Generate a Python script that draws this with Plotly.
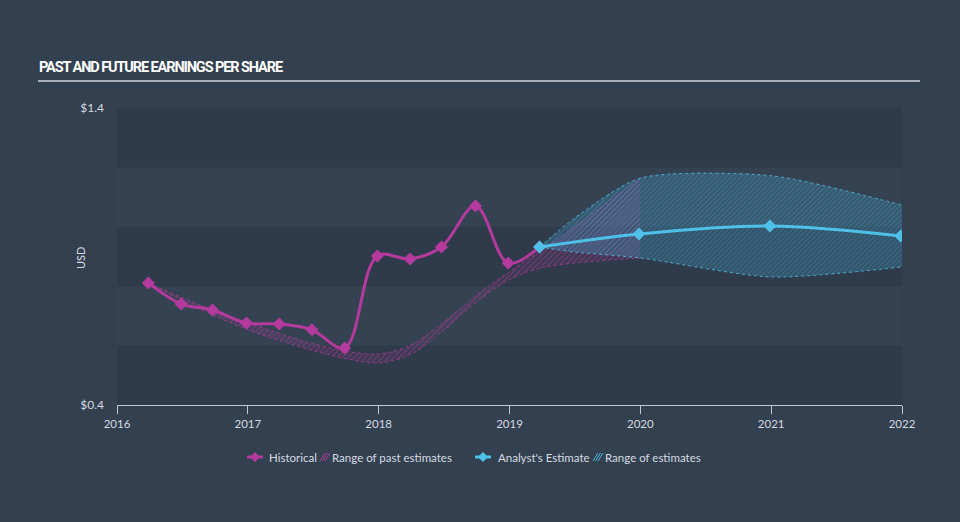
import plotly.graph_objects as go

# ---- data ----
hist_x = [2016.24, 2016.49, 2016.73, 2016.99, 2017.24, 2017.49, 2017.74, 2017.99,
          2018.24, 2018.48, 2018.74, 2018.99, 2019.23]
hist_y = [0.811, 0.740, 0.720, 0.676, 0.673, 0.653, 0.592, 0.902,
          0.892, 0.932, 1.070, 0.878, 0.932]

est_x = [2019.23, 2019.99, 2020.99, 2021.99]
est_y = [0.932, 0.976, 1.003, 0.969]

past_rng_x = [2016.24, 2016.5, 2016.75, 2017.0, 2017.25, 2017.5, 2017.75, 2018.0,
              2018.25, 2018.5, 2018.75, 2019.0, 2019.25, 2020.0]
past_rng_hi = [0.811, 0.761, 0.717, 0.677, 0.640, 0.606, 0.582, 0.572,
               0.603, 0.680, 0.771, 0.849, 0.923, 1.164]
past_rng_lo = [0.811, 0.751, 0.700, 0.653, 0.616, 0.583, 0.556, 0.542,
               0.572, 0.653, 0.748, 0.822, 0.862, 0.895]

fut_rng_x = [2019.23, 2019.5, 2020.0, 2021.0, 2022.0]
fut_rng_hi = [0.932, 1.030, 1.164, 1.172, 1.073]
fut_rng_lo = [0.932, 0.915, 0.895, 0.831, 0.865]

x_ticks = [2016, 2017, 2018, 2019, 2020, 2021, 2022]
y_ticks = [0.4, 1.4]
y_tick_text = ["$0.4", "$1.4"]
band_edges = [(0.4, 0.6), (0.8, 1.0), (1.2, 1.4)]

title_text = "PAST AND FUTURE EARNINGS PER SHARE"
legend_labels = ["Historical", "Range of past estimates", "Analyst's Estimate", "Range of estimates"]

# ---- style ----
MAG = "#b53a9d"
CYA = "#4fc1e9"
BG = "#334050"
DARK = "#2f3a4a"
TXT = "#d6dae0"

L, R, T, B = 117, 58, 108, 117
W, H = 960, 522
PW, PH = W - L - R, H - T - B


def px(x):
    return (x - L) / PW


def py(y):
    return (H - B - y) / PH


fig = go.Figure()

# past range
fig.add_trace(go.Scatter(x=past_rng_x, y=past_rng_lo, mode="lines",
                         line=dict(color="rgba(181,58,157,0.7)", width=1, dash="dot", shape="spline"),
                         showlegend=False, hoverinfo="skip"))
fig.add_trace(go.Scatter(x=past_rng_x, y=past_rng_hi, mode="lines", fill="tonexty",
                         fillcolor="rgba(181,58,157,0.12)",
                         fillpattern=dict(shape="/", fgcolor="rgba(190,60,165,0.75)",
                                          bgcolor="rgba(181,58,157,0.10)", size=4, solidity=0.3),
                         line=dict(color="rgba(181,58,157,0.7)", width=1, dash="dot", shape="spline"),
                         showlegend=False, hoverinfo="skip"))
# future range
fig.add_trace(go.Scatter(x=fut_rng_x, y=fut_rng_lo, mode="lines",
                         line=dict(color="rgba(79,193,233,0.8)", width=1, dash="dot",
                                   shape="spline", smoothing=0.7),
                         showlegend=False, hoverinfo="skip"))
fig.add_trace(go.Scatter(x=fut_rng_x, y=fut_rng_hi, mode="lines", fill="tonexty",
                         fillcolor="rgba(79,193,233,0.15)",
                         fillpattern=dict(shape="/", fgcolor="rgba(79,193,233,0.55)",
                                          bgcolor="rgba(60,150,190,0.25)", size=3.5, solidity=0.3),
                         line=dict(color="rgba(79,193,233,0.8)", width=1, dash="dot",
                                   shape="spline", smoothing=0.7),
                         showlegend=False, hoverinfo="skip"))
# historical
fig.add_trace(go.Scatter(x=hist_x, y=hist_y, mode="lines+markers",
                         line=dict(color=MAG, width=3, shape="spline"),
                         marker=dict(symbol="diamond", size=10, color=MAG),
                         showlegend=False, hoverinfo="skip"))
# analyst estimate
fig.add_trace(go.Scatter(x=est_x, y=est_y, mode="lines+markers",
                         line=dict(color=CYA, width=3, shape="spline"),
                         marker=dict(symbol="diamond", size=10, color=CYA),
                         showlegend=False, hoverinfo="skip"))

shapes = []
for lo, hi in band_edges:
    shapes.append(dict(type="rect", xref="paper", yref="y", x0=0, x1=1, y0=lo, y1=hi,
                       fillcolor=DARK, line=dict(width=0), layer="below"))
# title underline
shapes.append(dict(type="line", xref="paper", yref="paper", x0=px(38), x1=px(920),
                   y0=py(81), y1=py(81), line=dict(color="#a9b0ba", width=2)))

# legend glyphs
ly = 457
for cx, col in [(255, MAG), (483, CYA)]:
    shapes.append(dict(type="line", xref="paper", yref="paper", x0=px(cx - 8), x1=px(cx + 8),
                       y0=py(ly), y1=py(ly), line=dict(color=col, width=3)))
    shapes.append(dict(type="path", xref="paper", yref="paper", xsizemode="pixel", ysizemode="pixel",
                       xanchor=px(cx), yanchor=py(ly),
                       path="M 0 5 L 5 0 L 0 -5 L -5 0 Z", fillcolor=col, line=dict(width=0)))
for sx, col in [(320, "rgba(190,60,165,0.9)"), (593, "rgba(79,193,233,0.9)")]:
    for k in range(3):
        x0 = sx + k * 2.5
        shapes.append(dict(type="line", xref="paper", yref="paper",
                           x0=px(x0), x1=px(x0 + 5), y0=py(ly + 4), y1=py(ly - 4),
                           line=dict(color=col, width=1)))

annotations = [
    dict(text='<span style="letter-spacing:-1.1px">' + title_text + "</span>",
         xref="paper", yref="paper", x=px(37), y=py(68), xanchor="left",
         yanchor="middle", showarrow=False,
         font=dict(family="Roboto, sans-serif", size=14.5, color="#ffffff", weight="bold")),
    dict(text="USD", xref="paper", yref="paper", x=px(80), y=py(258), textangle=-90,
         xanchor="center", yanchor="middle", showarrow=False,
         font=dict(family="Lato, sans-serif", size=11, color=TXT)),
]
for tx, label in [(267, legend_labels[0]), (330, legend_labels[1]),
                  (496, legend_labels[2]), (603, legend_labels[3])]:
    annotations.append(dict(text=label, xref="paper", yref="paper", x=px(tx), y=py(ly),
                            xanchor="left", yanchor="middle", showarrow=False,
                            font=dict(family="Lato, sans-serif", size=11.5, color=TXT)))

fig.update_layout(
    width=W, height=H,
    margin=dict(l=L, r=R, t=T, b=B),
    paper_bgcolor=BG, plot_bgcolor="#354252",
    shapes=shapes, annotations=annotations,
    showlegend=False, hovermode=False,
    xaxis=dict(range=[2016, 2022], tickvals=x_ticks, ticktext=[str(v) for v in x_ticks],
               showgrid=False, zeroline=False, showline=True, linecolor="#c3c9d1", linewidth=1,
               ticks="outside", ticklen=8, tickcolor="#c3c9d1",
               tickfont=dict(family="Lato, sans-serif", size=11.5, color=TXT)),
    yaxis=dict(range=[0.4, 1.4], tickvals=y_ticks, ticktext=y_tick_text,
               showgrid=False, zeroline=False, showline=False, ticks="",
               ticklabelstandoff=12,
               tickfont=dict(family="Lato, sans-serif", size=12, color=TXT)),
)

fig.write_html("out.html")
